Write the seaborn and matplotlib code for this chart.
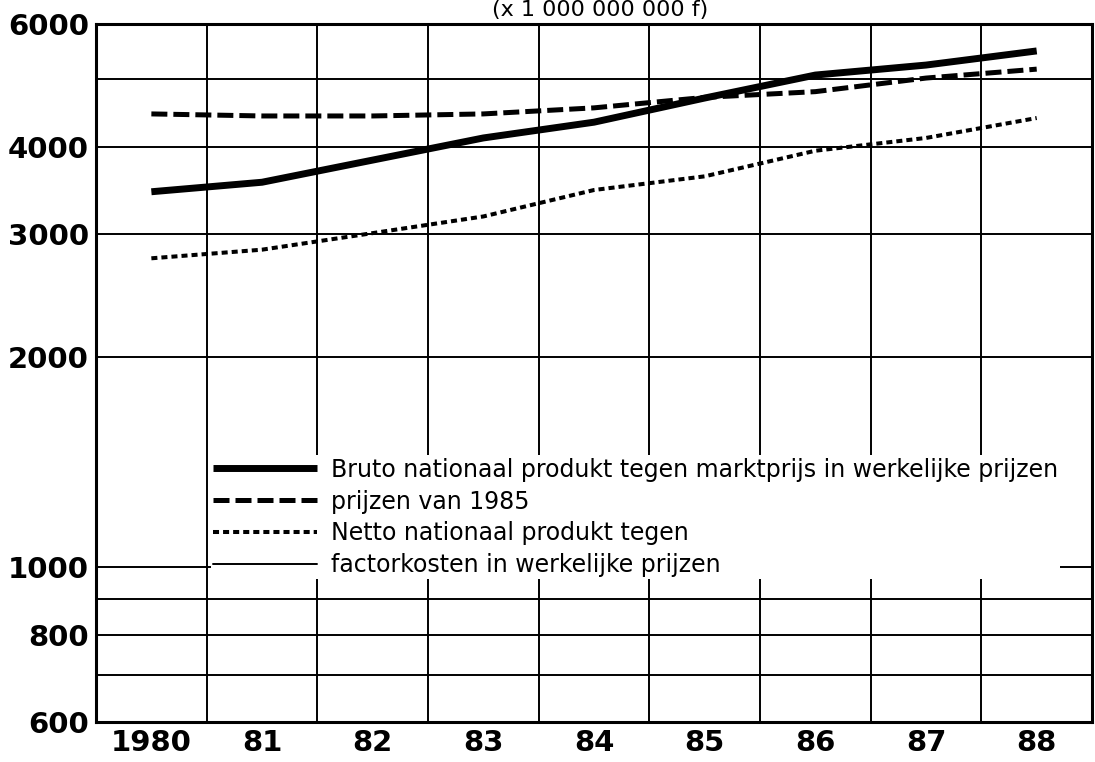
import matplotlib
matplotlib.use("Agg")
import matplotlib.pyplot as plt
from matplotlib.lines import Line2D
import seaborn as sns
import pandas as pd
import numpy as np

# jaren en reeksen (x 1 000 000 000 f)
jaren = ['1980', '81', '82', '83', '84', '85', '86', '87', '88']
bnp_markt = [3450, 3560, 3830, 4120, 4340, 4700, 5070, 5240, 5490]
bnp_1985 = [4460, 4430, 4430, 4460, 4550, 4710, 4800, 5020, 5170]
nnp_factor = [2770, 2850, 3010, 3180, 3470, 3630, 3950, 4120, 4400]

y_ticks = [600, 700, 800, 900, 1000, 2000, 3000, 4000, 5000, 6000]
y_labels = ['600', '', '800', '', '1000', '2000', '3000', '4000', '', '6000']

labels = ['Bruto nationaal produkt tegen marktprijs in werkelijke prijzen',
          'prijzen van 1985',
          'Netto nationaal produkt tegen',
          'factorkosten in werkelijke prijzen']

df = pd.DataFrame({'pos': np.arange(len(jaren)), 'jaar': jaren,
                   'markt': bnp_markt, 'p1985': bnp_1985, 'netto': nnp_factor})

sns.set_style('white')
plt.rcParams['font.family'] = ['DejaVu Sans']
plt.rcParams['text.color'] = 'black'

fig = plt.figure(figsize=(10.95, 7.62), dpi=100)
ax = fig.add_axes([0.0877, 0.0525, 0.9096, 0.916])

sns.lineplot(data=df, x='pos', y='p1985', ax=ax, color='black', linewidth=3.6,
             linestyle=(0, (3.2, 1.2)), label=labels[1], zorder=3)
sns.lineplot(data=df, x='pos', y='netto', ax=ax, color='black', linewidth=2.9,
             linestyle=(0, (1.5, 1.0)), label=labels[2], zorder=3)
sns.lineplot(data=df, x='pos', y='markt', ax=ax, color='black', linewidth=5.0,
             solid_capstyle='butt', label=labels[0], zorder=4)

ax.set_yscale('log')
ax.set_ylim(600, 6000)
ax.set_xlim(-0.5, len(jaren) - 0.5)
ax.set_yticks(y_ticks)
ax.set_yticklabels(y_labels)
ax.yaxis.set_minor_locator(matplotlib.ticker.NullLocator())
ax.set_xticks(df['pos'])
ax.set_xticklabels(jaren)
ax.set_xticks(np.arange(len(jaren) - 1) + 0.5, minor=True)
ax.set_xlabel('')
ax.set_ylabel('')

ax.yaxis.grid(True, which='major', color='black', linewidth=1.4)
ax.xaxis.grid(True, which='minor', color='black', linewidth=1.4)
ax.xaxis.grid(False, which='major')
ax.set_axisbelow(True)

ax.tick_params(axis='both', which='both', length=0, labelcolor='black')
ax.tick_params(axis='y', pad=5, labelsize=21)
ax.tick_params(axis='x', pad=5, labelsize=21)
for t in ax.get_xticklabels() + ax.get_yticklabels():
    t.set_fontweight('bold')

for s in ax.spines.values():
    s.set_color('black')
    s.set_linewidth(2.2)

# legenda: vierde regel is tweede regel van de netto-reeks
h, l = ax.get_legend_handles_labels()
order = [labels[0], labels[1], labels[2]]
handles = [h[l.index(x)] for x in order]
handles.append(Line2D([], [], color='black', linewidth=1.4))
leg = ax.legend(handles, labels, loc='upper left', bbox_to_anchor=(0.115, 0.382),
                fontsize=17, frameon=True, framealpha=1, edgecolor='none',
                facecolor='white', fancybox=False, borderpad=0.1,
                borderaxespad=0, handlelength=4.4, handletextpad=0.6,
                labelspacing=0.33, labelcolor='black')
leg.set_zorder(5)

fig.text(0.548, 1.0, '(x 1 000 000 000 f)', fontsize=16, ha='center', va='top')

fig.savefig('out.png', dpi=100)
